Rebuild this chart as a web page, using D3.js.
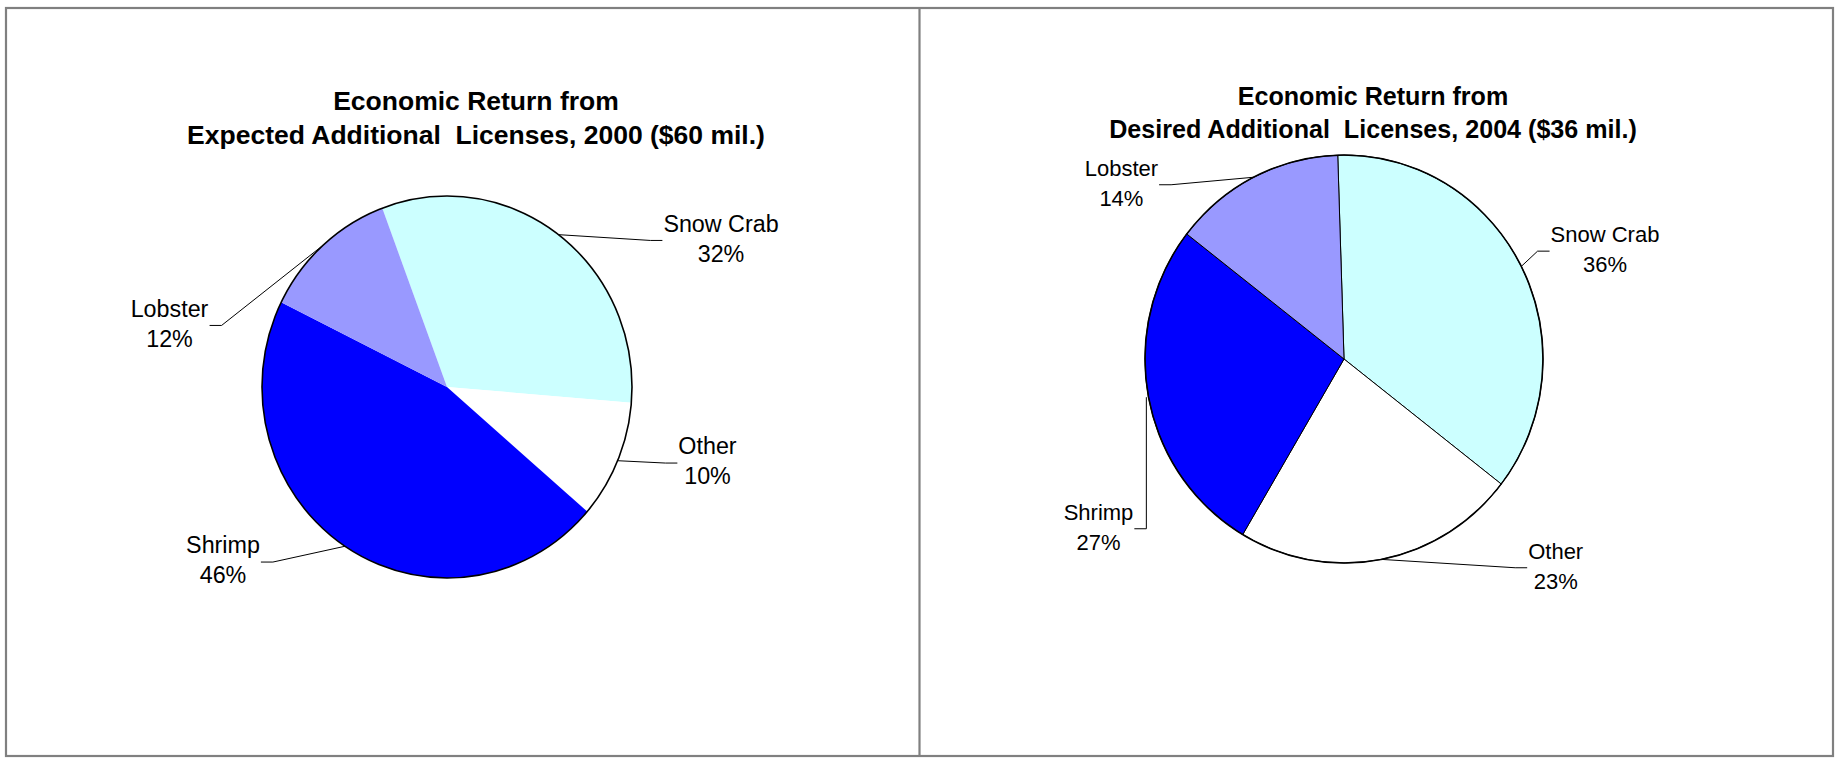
<!DOCTYPE html>
<html>
<head>
<meta charset="utf-8">
<script src="https://cdn.jsdelivr.net/npm/d3@7"></script>
<style>
  html, body { margin: 0; padding: 0; background: #fff; }
  svg { display: block; }
  text { font-family: "Liberation Sans", Arial, sans-serif; fill: #000; }
</style>
</head>
<body>
<svg id="chart" width="1839" height="760"></svg>
<script>
// Fishery segments, in drawing order (clockwise)
const categories = ["Snow Crab", "Other", "Shrimp", "Lobster"];

// Share of economic return (%) per segment
const share2000 = [32, 10, 46, 12];
const share2004 = [36, 23, 27, 14];

// Chart titles
const title2000 = ["Economic Return from", "Expected Additional  Licenses, 2000 ($60 mil.)"];
const title2004 = ["Economic Return from", "Desired Additional  Licenses, 2004 ($36 mil.)"];

const color = d3.scaleOrdinal()
  .domain(categories)
  .range(["#CCFFFF", "#FFFFFF", "#0000FF", "#9999FF"]);

const svg = d3.select("#chart");

// Panel frame
const frame = svg.append("g")
  .attr("fill", "none")
  .attr("stroke", "#808080")
  .attr("stroke-width", 2.2);
frame.append("rect").attr("x", 6).attr("y", 8).attr("width", 1827).attr("height", 748);
frame.append("line").attr("x1", 919.5).attr("x2", 919.5).attr("y1", 8).attr("y2", 756);

const deg = Math.PI / 180;

function drawPie(cfg) {
  const g = svg.append("g");

  // Title
  const t = g.append("text")
    .attr("text-anchor", "middle")
    .attr("font-weight", "bold")
    .attr("font-size", cfg.titleSize)
    .style("white-space", "pre");
  cfg.title.forEach((line, i) => {
    t.append("tspan")
      .attr("x", cfg.titleX)
      .attr("y", cfg.titleY + i * cfg.titleGap)
      .text(line);
  });

  const rows = categories.map((c, i) => ({ name: c, value: cfg.values[i] }));
  const pie = d3.pie()
    .sort(null)
    .value(d => d.value)
    .startAngle(cfg.start * deg)
    .endAngle(cfg.start * deg + 2 * Math.PI);
  const arcs = pie(rows);

  const r = cfg.rx;
  const sy = cfg.ry / cfg.rx;
  const arc = d3.arc().innerRadius(0).outerRadius(r);
  const rim = d3.arc().innerRadius(r).outerRadius(r);

  const pg = g.append("g")
    .attr("transform", `translate(${cfg.cx},${cfg.cy}) scale(1,${sy})`);

  pg.selectAll("path.slice")
    .data(arcs)
    .join("path")
    .attr("class", "slice")
    .attr("d", arc)
    .attr("fill", d => color(d.data.name))
    .attr("stroke", cfg.sliceStroke ? "#000" : "none")
    .attr("stroke-width", 1)
    .attr("vector-effect", "non-scaling-stroke");

  // Outer rim
  pg.append("ellipse")
    .attr("rx", r).attr("ry", r)
    .attr("fill", "none")
    .attr("stroke", "#000")
    .attr("stroke-width", 1.6)
    .attr("vector-effect", "non-scaling-stroke");

  // Data labels with leader lines
  const fs = cfg.labelSize;
  const lineGap = 30;
  arcs.forEach(d => {
    const L = cfg.labels[d.data.name];
    const pct = d.data.value + "%";
    const lab = g.append("text")
      .attr("text-anchor", "middle")
      .attr("font-size", fs);
    lab.append("tspan").attr("x", L.x).attr("y", L.y).text(d.data.name);
    lab.append("tspan").attr("x", L.x).attr("y", L.y + lineGap).text(pct);

    const bb = lab.node().getBBox();
    const midY = L.y + 8.75;
    const [px, py] = rim.centroid(d);
    const ex = cfg.cx + px;
    const ey = cfg.cy + py * sy;
    let x0, x1;
    if (L.side === "left") {
      x0 = bb.x + bb.width + 1;
      x1 = x0 + 12;
    } else {
      x0 = bb.x - 1;
      x1 = x0 - 12;
    }
    const pts = L.vertical
      ? [[x0, midY], [x1, midY], [x1, ey]]
      : [[x0, midY], [x1, midY], [ex, ey]];
    g.insert("path", "text")
      .attr("d", d3.line()(pts))
      .attr("fill", "none")
      .attr("stroke", "#000")
      .attr("stroke-width", 1);
  });
}

drawPie({
  title: title2000,
  titleX: 476, titleY: 109.5, titleGap: 34.5, titleSize: 26.5,
  values: share2000,
  cx: 447, cy: 387, rx: 185, ry: 191,
  start: -20.5,
  sliceStroke: false,
  labelSize: 23.3,
  labels: {
    "Snow Crab": { x: 721, y: 231.7, side: "right" },
    "Other":     { x: 707.5, y: 454.3, side: "right" },
    "Shrimp":    { x: 223, y: 553.3, side: "left" },
    "Lobster":   { x: 169.5, y: 316.7, side: "left" }
  }
});

drawPie({
  title: title2004,
  titleX: 1373, titleY: 105.2, titleGap: 33, titleSize: 25.1,
  values: share2004,
  cx: 1344, cy: 359, rx: 199, ry: 204,
  start: -1.8,
  sliceStroke: true,
  labelSize: 22,
  labels: {
    "Snow Crab": { x: 1605, y: 242.4, side: "right" },
    "Other":     { x: 1555.7, y: 559, side: "right" },
    "Shrimp":    { x: 1098.5, y: 520, side: "left", vertical: true },
    "Lobster":   { x: 1121.4, y: 176, side: "left" }
  }
});
</script>
</body>
</html>
